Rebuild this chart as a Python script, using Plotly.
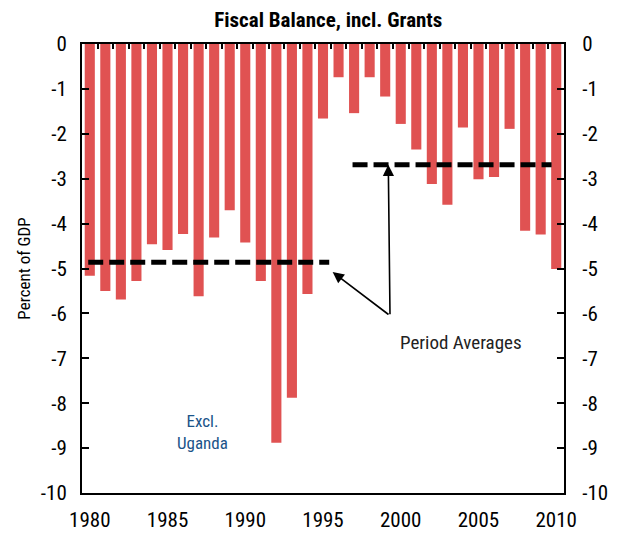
import plotly.graph_objects as go

years = list(range(1980, 2011))
balance = [-5.16, -5.50, -5.69, -5.28, -4.46, -4.59, -4.23, -5.62, -4.31, -3.70,
           -4.42, -5.28, -8.88, -7.88, -5.57, -1.66, -0.74, -1.54, -0.74, -1.17,
           -1.78, -2.35, -3.12, -3.58, -1.86, -3.01, -2.96, -1.89, -4.16, -4.24,
           -5.01]
period_start = [1979.9, 1996.9]
period_end = [1995.4, 2009.7]
period_avg = [-4.86, -2.69]
y_ticks = [0, -1, -2, -3, -4, -5, -6, -7, -8, -9, -10]
y_labels = ["0", "-1", "-2", "-3", "-4", "-5", "-6", "-7", "-8", "-9", "-10"]
x_ticks = [1980, 1985, 1990, 1995, 2000, 2005, 2010]

FONT = "Liberation Sans Narrow, Arial Narrow, Roboto Condensed, sans-serif"

fig = go.Figure()
fig.add_trace(go.Bar(x=years, y=balance, width=0.65,
                     marker=dict(color="#E05252", line=dict(width=0)),
                     showlegend=False, hoverinfo="skip"))
for xs, xe, a in zip(period_start, period_end, period_avg):
    fig.add_trace(go.Scatter(x=[xs, xe], y=[a, a], mode="lines",
                             line=dict(color="black", width=5, dash="15px,6px"),
                             showlegend=False, hoverinfo="skip"))
fig.add_trace(go.Scatter(x=[years[0]], y=[0], xaxis="x2", yaxis="y2",
                         mode="markers", marker=dict(opacity=0),
                         showlegend=False, hoverinfo="skip"))

tail = (1999.31, -6.05)
for hx, hy in [(1995.62, -5.08), (1999.2, -2.69)]:
    fig.add_annotation(x=hx, y=hy, ax=tail[0], ay=tail[1], xref="x", yref="y",
                       axref="x", ayref="y", showarrow=True, arrowhead=2,
                       arrowsize=1.4, arrowwidth=1.6, arrowcolor="black", text="")
fig.add_annotation(x=2003.88, y=-6.64, xref="x", yref="y", text="Period Averages",
                   showarrow=False, font=dict(family=FONT, size=19, color="#222"))
fig.add_annotation(x=1987.22, y=-8.64, xref="x", yref="y", text="Excl.<br>Uganda",
                   showarrow=False, font=dict(family=FONT, size=17, color="#1B5489"))

xr = [1979.5, 2010.5]
yr = [-10, 0]
# page body has an 8px margin, so the figure is shrunk and shifted accordingly
fig.update_layout(
    width=616, height=529,
    margin=dict(l=74, r=60, t=36, b=44, autoexpand=False),
    paper_bgcolor="white", plot_bgcolor="white",
    font=dict(family=FONT, size=20, color="black"),
    title=dict(text="<b>Fiscal Balance, incl. Grants</b>", x=0.52, xanchor="center",
               y=0.992, yanchor="top", font=dict(family=FONT, size=21, color="black")),
    xaxis=dict(range=xr, tickvals=x_ticks, ticks="", showgrid=False, zeroline=False,
               showline=True, linecolor="black", linewidth=2, mirror=True,
               tickfont=dict(size=21), automargin=False, ticklabelstandoff=7),
    xaxis2=dict(range=xr, overlaying="x", side="top", anchor="y",
                tickvals=[y + 0.5 for y in years[:-1]], ticks="inside", ticklen=5,
                tickwidth=1.5, tickcolor="black", showticklabels=False,
                showgrid=False, zeroline=False, showline=False, automargin=False),
    yaxis=dict(range=yr, tickvals=y_ticks, ticktext=y_labels, ticks="inside",
               ticklen=7, tickwidth=2, tickcolor="black", showgrid=False,
               zeroline=False, showline=True, linecolor="black", linewidth=2,
               tickfont=dict(size=21), automargin=False, ticklabelstandoff=9,
               title=dict(text="Percent of GDP", font=dict(size=17), standoff=6)),
    yaxis2=dict(range=yr, tickvals=y_ticks, ticktext=y_labels, overlaying="y",
                side="right", anchor="x", ticks="inside", ticklen=7, tickwidth=2,
                tickcolor="black", showgrid=False, zeroline=False, showline=True,
                linecolor="black", linewidth=2, tickfont=dict(size=21),
                automargin=False, ticklabelstandoff=12),
)

fig.write_html("out.html")
